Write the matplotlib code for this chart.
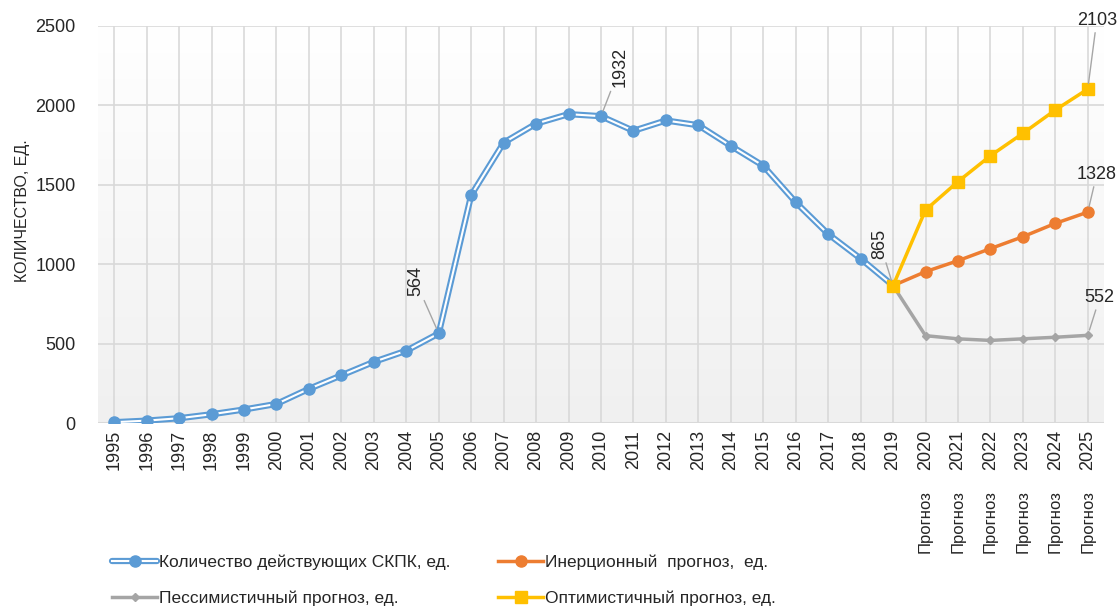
import numpy as np
import matplotlib
matplotlib.use("Agg")
import matplotlib.pyplot as plt
import matplotlib.transforms as mtransforms
from matplotlib.legend_handler import HandlerTuple

plt.rcParams['font.family'] = ['Liberation Sans', 'DejaVu Sans']

years = [str(y) for y in range(1995, 2026)]
fact_years = list(range(1995, 2020))
fact = [5, 15, 30, 55, 85, 120, 215, 300, 385, 455, 564, 1435, 1765, 1885, 1945,
        1932, 1840, 1905, 1875, 1745, 1620, 1390, 1190, 1035, 865]
fc_years = list(range(2019, 2026))
inert = [865, 953, 1022, 1098, 1173, 1257, 1328]
pessim = [865, 550, 530, 520, 530, 540, 552]
optim = [865, 1341, 1520, 1683, 1824, 1971, 2103]

names = ["Количество действующих СКПК, ед.", "Инерционный  прогноз,  ед.",
         "Пессимистичный прогноз, ед.", "Оптимистичный прогноз, ед."]

c_blue = '#5b9bd5'
c_orange = '#ed7d31'
c_gray = '#a5a5a5'
c_yellow = '#ffc000'
c_text = '#262626'

fig = plt.figure(figsize=(11.19, 6.08), dpi=100)
ax = fig.add_axes([98/1119, 1 - 423/608, 1006/1119, 397/608])

xf = [y - 1995 for y in fact_years]
xp = [y - 1995 for y in fc_years]

# фон с градиентом (сверху белый, снизу светло-серый)
ax.imshow(np.linspace(1, 0, 256).reshape(-1, 1), extent=(-0.5, 30.5, 0, 2500), aspect='auto',
          cmap=matplotlib.colors.LinearSegmentedColormap.from_list('g2', ['#f0f0f0', '#ffffff']),
          zorder=0)

# основная линия (двойная)
l1 = ax.plot(xf, fact, color=c_blue, lw=4.5, zorder=3, solid_capstyle='round')[0]
l1w = ax.plot(xf, fact, color='white', lw=1.5, zorder=3.1)[0]
m1 = ax.plot(xf, fact, ls='none', marker='o', ms=8, color=c_blue, zorder=3.2)[0]

l3 = ax.plot(xp, pessim, color=c_gray, lw=2.5, marker='D', ms=4.5, zorder=4)[0]
l2 = ax.plot(xp, inert, color=c_orange, lw=2.5, marker='o', ms=8, zorder=5)[0]
l4 = ax.plot(xp, optim, color=c_yellow, lw=2.5, marker='s', ms=8.5, zorder=6)[0]

ax.set_xlim(-0.5, 30.5)
ax.set_ylim(0, 2500)
ax.set_yticks(range(0, 2501, 500))
ax.set_xticks(range(len(years)))
ax.set_xticklabels(years, rotation=90, fontsize=13, color=c_text, va='top')
ax.tick_params(axis='y', labelsize=13, colors=c_text, length=0, pad=16)
ax.tick_params(axis='x', length=0, pad=5)
ax.grid(True, color='#d9d9d9', lw=1.2, zorder=1)
ax.set_axisbelow(True)
for s in ax.spines.values():
    s.set_visible(False)
ax.axhline(0, color='#d9d9d9', lw=1.5, zorder=1)
ax.set_ylabel("КОЛИЧЕСТВО, ЕД.", fontsize=11.5, color=c_text)
ax.yaxis.set_label_coords(-0.068, 0.535)

trans = mtransforms.blended_transform_factory(ax.transData, ax.transAxes)
for y in range(2020, 2026):
    ax.text(y - 1995, -0.168, "Прогноз", rotation=90, ha='center', va='top',
            transform=trans, fontsize=12, color=c_text)

# подписи данных
arrow = dict(arrowstyle='-', color='#a6a6a6', lw=1, shrinkA=1, shrinkB=4)
labels = [
    (2010 - 1995, 1932, (19, 49), 90),
    (2005 - 1995, 564, (-23, 52), 90),
    (2019 - 1995, 865, (-13, 42), 90),
    (2025 - 1995, 2103, (9, 69), 0),
    (2025 - 1995, 1328, (9, 38), 0),
    (2025 - 1995, 552, (12, 38), 0),
]
for x, v, off, rot in labels:
    ax.annotate(str(v), xy=(x, v), xytext=off, textcoords='offset pixels',
                ha='center', va='center', rotation=rot, fontsize=13, color=c_text,
                arrowprops=arrow, zorder=8, annotation_clip=False)

# порядок для двух колонок: слева синяя и серая, справа оранжевая и жёлтая
leg = fig.legend([(l1, l1w, m1), l3, l2, l4], [names[0], names[2], names[1], names[3]],
                 handler_map={tuple: HandlerTuple(ndivide=1)},
                 loc='lower left', bbox_to_anchor=(105/1119, -0.008), ncol=2,
                 frameon=False, fontsize=12.5, handlelength=2.6, handletextpad=0.1,
                 columnspacing=2.75, labelspacing=1.2, borderaxespad=0)
for t in leg.get_texts():
    t.set_color(c_text)

fig.savefig("out.png", dpi=100)
